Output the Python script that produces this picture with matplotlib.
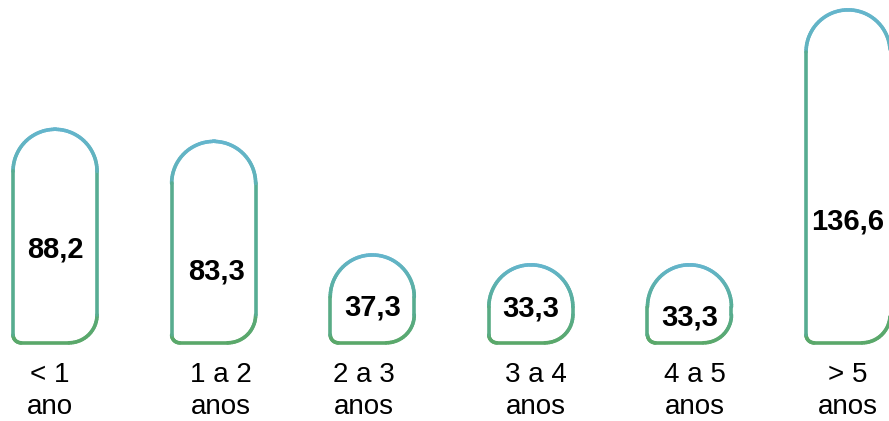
import numpy as np
import matplotlib
matplotlib.use("Agg")
import matplotlib.pyplot as plt
from matplotlib.collections import LineCollection
from matplotlib.colors import LinearSegmentedColormap

cat_top = ["< 1", "1 a 2", "2 a 3", "3 a 4", "4 a 5", "> 5"]
cat_bottom = ["ano", "anos", "anos", "anos", "anos", "anos"]
values = [88.2, 83.3, 37.3, 33.3, 33.3, 136.6]
value_labels = ["88,2", "83,3", "37,3", "33,3", "33,3", "136,6"]

# layout tweaks (label height as fraction of bar, small x nudges in px)
label_frac = [0.46, 0.38, 0.46, 0.51, 0.39, 0.38]
label_dx = [0, 3, 0, 0, 0, 0]
cat_dx = [-5, 7, -8, 5, 5, 0]
bar_base = 1.7  # bars are drawn from slightly above zero

plt.rcParams['font.family'] = ['Liberation Sans', 'DejaVu Sans']

fig = plt.figure(figsize=(8.89, 4.21), dpi=100)
ax = fig.add_axes([0, 0, 1, 1])
ax.set_xlim(-0.347, 5.258)
ax.set_ylim(-29.98, 140.6)
ax.axis('off')

t0 = ax.transData.transform((0, 0))
t1 = ax.transData.transform((1, 1))
sx = t1[0] - t0[0]
sy = t1[1] - t0[1]

cmap = LinearSegmentedColormap.from_list("edge", ["#5aa86a", "#57ad96", "#64b5cc"])

bar_w = 84  # px
lw = 2.6
r_bl = 8
r_br = 28


def arc(cx, cy, r, a0, a1, n=30):
    a = np.linspace(np.radians(a0), np.radians(a1), n)
    return np.column_stack([cx + r * np.cos(a), cy + r * np.sin(a)])


for i, v in enumerate(values):
    h = (v - bar_base) * sy
    R = bar_w / 2
    # outline in pixel offsets from bar bottom-centre, counter-clockwise from bottom-left
    pts = np.vstack([
        arc(-R + r_bl, r_bl, r_bl, 180, 270, 12),
        arc(R - r_br, r_br, r_br, 270, 360, 20),
        arc(0, h - R, R, 0, 180, 60),
        [[-R, r_bl]],
    ])
    xs = i + pts[:, 0] / sx
    ys = bar_base + pts[:, 1] / sy
    segs = np.stack([np.column_stack([xs[:-1], ys[:-1]]),
                     np.column_stack([xs[1:], ys[1:]])], axis=1)
    frac = ((pts[:-1, 1] + pts[1:, 1]) / 2) / h
    lc = LineCollection(segs, colors=cmap(frac), linewidths=lw, capstyle='round', joinstyle='round')
    ax.add_collection(lc)

    ax.text(i + label_dx[i] / sx, v * label_frac[i], value_labels[i],
            ha='center', va='center_baseline', fontsize=21, fontweight='bold', color='black')

    cx = i + cat_dx[i] / sx
    ax.text(cx, -14.2, cat_top[i], ha='center', va='baseline', fontsize=20, color='black')
    ax.text(cx, -27.1, cat_bottom[i], ha='center', va='baseline', fontsize=20, color='black')

fig.savefig("out.png", dpi=100)
